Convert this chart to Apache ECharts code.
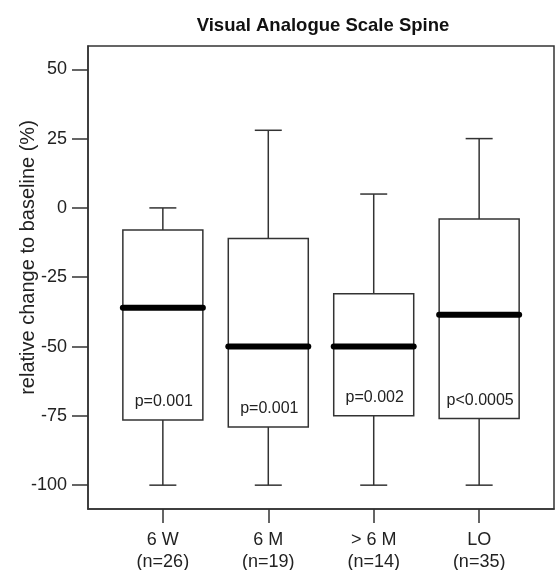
<!DOCTYPE html>
<html>
<head>
<meta charset="utf-8">
<script src="https://cdn.jsdelivr.net/npm/echarts@6/dist/echarts.min.js"></script>
<style>
  html, body { margin: 0; padding: 0; background: #fff; }
  #chart { width: 555px; height: 570px; }
</style>
</head>
<body>
<div id="chart"></div>
<script>
// groups on the x axis and the sample sizes
var groups = ["6 W", "6 M", "> 6 M", "LO"];
var nCounts = [26, 19, 14, 35];
// box plot statistics, relative change to baseline (%)
var lowVals = [-100, -100, -100, -100];
var q1Vals = [-76.5, -79, -75, -76];
var medVals = [-36, -50, -50, -38.5];
var q3Vals = [-8, -11, -31, -4];
var highVals = [0, 28, 5, 25];
var pLabels = ["p=0.001", "p=0.001", "p=0.002", "p<0.0005"];
var yTicks = [-100, -75, -50, -25, 0, 25, 50];
var xTicks = [1, 2, 3, 4];

var FONT = "'Liberation Sans', Arial, sans-serif";
var BOX_W = 80;
var CAP_W = 27;
var INK = "#333";

var boxData = [];
for (var i = 0; i < groups.length; i++) {
  boxData.push([i + 1, lowVals[i], q1Vals[i], medVals[i], q3Vals[i], highVals[i]]);
}

function renderItem(params, api) {
  var x = api.value(0);
  var low = api.coord([x, api.value(1)]);
  var q1 = api.coord([x, api.value(2)]);
  var med = api.coord([x, api.value(3)]);
  var q3 = api.coord([x, api.value(4)]);
  var high = api.coord([x, api.value(5)]);
  var cx = low[0];
  var hb = BOX_W / 2, hc = CAP_W / 2;
  var st = { stroke: INK, lineWidth: 1.5, fill: null };
  return {
    type: "group",
    children: [
      { type: "line", shape: { x1: cx, y1: high[1], x2: cx, y2: q3[1] }, style: st },
      { type: "line", shape: { x1: cx - hc, y1: high[1], x2: cx + hc, y2: high[1] }, style: st },
      { type: "line", shape: { x1: cx, y1: q1[1], x2: cx, y2: low[1] }, style: st },
      { type: "line", shape: { x1: cx - hc, y1: low[1], x2: cx + hc, y2: low[1] }, style: st },
      { type: "rect", shape: { x: cx - hb, y: q3[1], width: BOX_W, height: q1[1] - q3[1] }, style: { stroke: INK, lineWidth: 1.5, fill: "#fff" } },
      { type: "line", shape: { x1: cx - hb, y1: med[1], x2: cx + hb, y2: med[1] }, style: { stroke: "#000", lineWidth: 6, lineCap: "round" } },
      {
        type: "text", x: cx + 1, y: q1[1] - 18,
        style: { text: pLabels[params.dataIndex], fontSize: 16, fontFamily: FONT, fill: "#222", align: "center", verticalAlign: "middle" }
      }
    ]
  };
}

var chart = echarts.init(document.getElementById("chart"));
var option = {
  animation: false,
  backgroundColor: "#fff",
  title: {
    text: "Visual Analogue Scale Spine",
    left: 318, top: 11, textAlign: "center",
    textStyle: { fontFamily: FONT, fontSize: 18.5, fontWeight: "bold", color: "#111" }
  },
  grid: {
    left: 88, right: 1, top: 46, bottom: 61,
    outerBoundsMode: "none",
    show: true, borderColor: INK, borderWidth: 1.5
  },
  xAxis: {
    type: "value", min: 0.29, max: 4.71,
    splitLine: { show: false },
    axisLine: { onZero: false, lineStyle: { color: INK, width: 1.5 } },
    axisTick: { show: true, customValues: xTicks, length: 14, lineStyle: { color: INK, width: 1.5 } },
    axisLabel: {
      customValues: xTicks, margin: 20, lineHeight: 22,
      fontFamily: FONT, fontSize: 18, color: "#222",
      formatter: function (v) {
        var k = Math.round(v) - 1;
        return groups[k] + "\n(n=" + nCounts[k] + ")";
      }
    }
  },
  yAxis: {
    type: "value", min: -108.6, max: 58.4,
    name: "relative change to baseline (%)",
    nameLocation: "middle", nameGap: 50, nameMoveOverlap: false,
    nameTextStyle: { fontFamily: FONT, fontSize: 20, color: "#222", padding: [0, 0, 0, 40] },
    splitLine: { show: false },
    axisLine: { show: true, onZero: false, lineStyle: { color: INK, width: 1.5 } },
    axisTick: { show: true, customValues: yTicks, length: 16, lineStyle: { color: INK, width: 1.5 } },
    axisLabel: { customValues: yTicks, margin: 21, fontFamily: FONT, fontSize: 18, color: "#222" }
  },
  series: [{
    type: "custom",
    renderItem: renderItem,
    encode: { x: 0, y: [1, 2, 3, 4, 5] },
    data: boxData
  }]
};
chart.setOption(option);
</script>
</body>
</html>
